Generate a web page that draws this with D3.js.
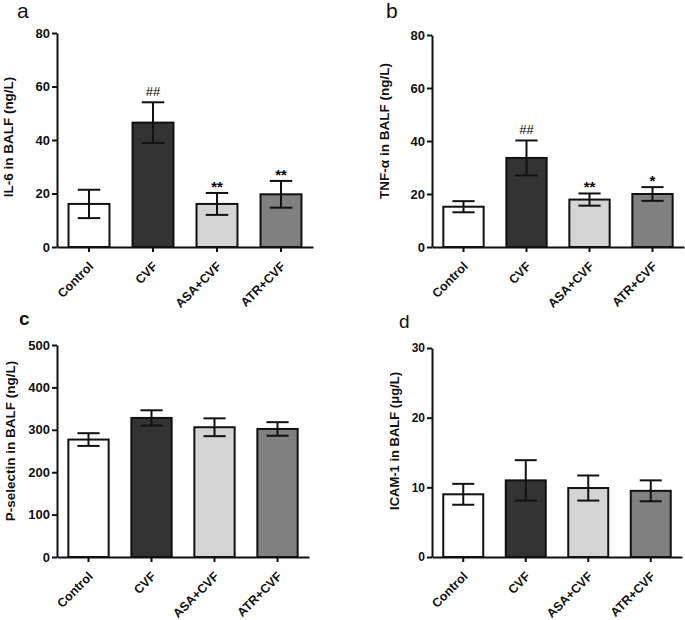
<!DOCTYPE html>
<html>
<head>
<meta charset="utf-8">
<script src="https://cdn.jsdelivr.net/npm/d3@7/dist/d3.min.js"></script>
<style>
  html, body { margin: 0; padding: 0; background: #fff; }
  svg { display: block; }
  text { font-family: "Liberation Sans", Arial, Helvetica, sans-serif; }
</style>
</head>
<body>
<svg id="chart" width="685" height="620"></svg>
<script>
// ---------------- data ----------------
const categories = ["Control", "CVF", "ASA+CVF", "ATR+CVF"];
const barColors = ["#ffffff", "#333333", "#d4d4d4", "#808080"];

const il6Mean = [16.1, 46.5, 16.1, 19.7];
const il6Err  = [5.3, 7.6, 4.1, 5.0];
const il6Marks = ["", "##", "**", "**"];
const il6Ticks = [0, 20, 40, 60, 80];

const tnfMean = [15.2, 33.6, 17.9, 20.0];
const tnfErr  = [2.1, 6.6, 2.3, 2.6];
const tnfMarks = ["", "##", "**", "*"];
const tnfTicks = [0, 20, 40, 60, 80];

const pselMean = [277, 328, 306, 302];
const pselErr  = [15, 18, 21, 16];
const pselMarks = ["", "", "", ""];
const pselTicks = [0, 100, 200, 300, 400, 500];

const icamMean = [9.0, 11.0, 9.9, 9.5];
const icamErr  = [1.5, 2.9, 1.8, 1.5];
const icamMarks = ["", "", "", ""];
const icamTicks = [0, 10, 20, 30];

// ---------------- layout ----------------
const panels = [
  { letter: "a", letterX: 17, letterY: 18, letterSize: 21, letterWeight: "normal",
    mean: il6Mean, err: il6Err, marks: il6Marks, ticks: il6Ticks,
    label: "IL-6 in BALF (ng/L)", labelX: 8, labelY: 137, labelSize: 13.5,
    x0: 57, x1: 313, yTop: 33, yBottom: 247, tickSize: 13 },
  { letter: "b", letterX: 386, letterY: 18, letterSize: 21, letterWeight: "normal",
    mean: tnfMean, err: tnfErr, marks: tnfMarks, ticks: tnfTicks,
    label: "TNF-\u03b1 in BALF (ng/L)", labelX: 384, labelY: 131, labelSize: 13.5,
    x0: 432, x1: 684, yTop: 35, yBottom: 247, tickSize: 13 },
  { letter: "c", letterX: 19, letterY: 325, letterSize: 19, letterWeight: "bold",
    mean: pselMean, err: pselErr, marks: pselMarks, ticks: pselTicks,
    label: "P-selectin in BALF (ng/L)", labelX: 10, labelY: 441, labelSize: 13.5,
    x0: 57, x1: 309, yTop: 345, yBottom: 557, tickSize: 13 },
  { letter: "d", letterX: 399, letterY: 328, letterSize: 19, letterWeight: "normal",
    mean: icamMean, err: icamErr, marks: icamMarks, ticks: icamTicks,
    label: "ICAM-1 in BALF (\u03bcg/L)", labelX: 394, labelY: 441, labelSize: 13,
    x0: 432, x1: 682, yTop: 348, yBottom: 557, tickSize: 12 }
];

const svg = d3.select("#chart");

panels.forEach(p => {
  const g = svg.append("g");
  const x = d3.scaleBand().domain(categories).range([p.x0, p.x1])
    .paddingInner(0.36).paddingOuter(0.18);
  const yMax = p.ticks[p.ticks.length - 1];
  const y = d3.scaleLinear().domain([0, yMax]).range([p.yBottom, p.yTop]);

  // panel letter
  g.append("text").attr("x", p.letterX).attr("y", p.letterY)
    .attr("font-size", p.letterSize).attr("font-weight", p.letterWeight)
    .attr("fill", "#111").text(p.letter);

  // bars
  g.selectAll("rect.bar").data(categories).enter().append("rect")
    .attr("class", "bar")
    .attr("x", d => x(d))
    .attr("y", (d, i) => y(p.mean[i]))
    .attr("width", x.bandwidth())
    .attr("height", (d, i) => y(0) - y(p.mean[i]))
    .attr("fill", (d, i) => barColors[i])
    .attr("stroke", "#111").attr("stroke-width", 2);

  // error bars
  const capW = x.bandwidth() * 0.55;
  categories.forEach((c, i) => {
    const cx = x(c) + x.bandwidth() / 2;
    const hi = y(p.mean[i] + p.err[i]);
    const lo = y(p.mean[i] - p.err[i]);
    g.append("line").attr("x1", cx).attr("x2", cx).attr("y1", hi).attr("y2", lo)
      .attr("stroke", "#111").attr("stroke-width", 2);
    [hi, lo].forEach(yy => {
      g.append("line").attr("x1", cx - capW / 2).attr("x2", cx + capW / 2)
        .attr("y1", yy).attr("y2", yy).attr("stroke", "#111").attr("stroke-width", 2);
    });
    const m = p.marks[i];
    if (m) {
      const isHash = m.indexOf("#") >= 0;
      g.append("text").attr("x", cx).attr("y", hi - (isHash ? 6 : 1))
        .attr("text-anchor", "middle")
        .attr("font-size", isHash ? 13 : 15)
        .attr("font-weight", isHash ? "normal" : "bold")
        .attr("fill", "#000").text(m);
    }
  });

  // y axis
  const ya = g.append("g").attr("transform", `translate(${p.x0},0)`)
    .call(d3.axisLeft(y).tickValues(p.ticks).tickSize(5).tickSizeOuter(0).tickPadding(2));
  // x axis
  const xa = g.append("g").attr("transform", `translate(0,${p.yBottom})`)
    .call(d3.axisBottom(x).tickSize(5).tickSizeOuter(0));

  [ya, xa].forEach(a => {
    a.selectAll("path.domain").attr("stroke", "#111").attr("stroke-width", 2);
    a.selectAll(".tick line").attr("stroke", "#111").attr("stroke-width", 2);
  });
  ya.selectAll(".tick text").attr("font-size", p.tickSize).attr("font-weight", "bold")
    .attr("fill", "#111").style("font-family", '"Liberation Sans", Arial, sans-serif');
  xa.selectAll(".tick text")
    .attr("font-size", 12.5).attr("font-weight", "bold").attr("fill", "#111")
    .style("font-family", '"Liberation Sans", Arial, sans-serif')
    .attr("text-anchor", "end")
    .attr("x", 0).attr("y", 0).attr("dy", "0.35em")
    .attr("transform", "translate(2,17) rotate(-45)");

  // y label
  g.append("text")
    .attr("transform", `translate(${p.labelX},${p.labelY}) rotate(-90)`)
    .attr("text-anchor", "middle").attr("dy", "0.35em")
    .attr("font-size", p.labelSize).attr("font-weight", "bold").attr("fill", "#111")
    .text(p.label);
});
</script>
</body>
</html>
